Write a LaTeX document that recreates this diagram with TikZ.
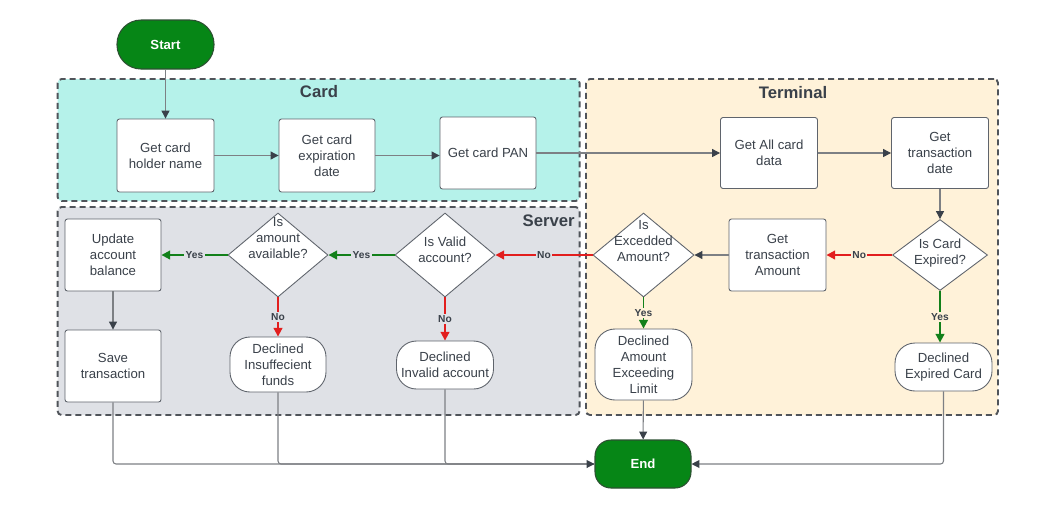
\documentclass[tikz,border=0pt]{standalone}
\usepackage{fontspec}
\setmainfont{Liberation Sans}
\usetikzlibrary{shapes.geometric,arrows.meta}
\newdimen\px \px=0.02cm
\definecolor{txt}{RGB}{58,65,74}
\definecolor{boxline}{RGB}{95,100,108}
\definecolor{laneline}{RGB}{80,84,90}
\definecolor{cardfill}{RGB}{181,242,234}
\definecolor{termfill}{RGB}{255,242,217}
\definecolor{servfill}{RGB}{223,225,230}
\definecolor{startg}{RGB}{6,134,22}
\definecolor{termedge}{RGB}{45,80,50}
\definecolor{conngray}{RGB}{125,128,132}
\definecolor{arrowc}{RGB}{58,65,74}
\definecolor{redc}{RGB}{226,30,30}
\definecolor{greenc}{RGB}{18,128,26}
\begin{document}
\begin{tikzpicture}[x=0.02cm,y=-0.02cm,
  base/.style={font=\fontsize{7.5}{9.1}\selectfont, text=txt, align=center, inner sep=0pt},
  box/.style={base, draw=boxline, fill=white, rounded corners=2.5\px, line width=0.5pt},
  decl/.style={box, rounded corners=20\px},
  dia/.style={diamond, draw=boxline, fill=white, inner sep=0pt, line width=0.5pt},
  terminal/.style={draw=termedge, fill=startg, line width=0.6pt, text=white, inner sep=0pt,
    font=\bfseries\fontsize{7.5}{9}\selectfont},
  lane/.style={draw=laneline, dash pattern=on 6\px off 4\px, line width=1.1pt, rounded corners=4\px, inner sep=0pt},
  title/.style={text=txt, font=\bfseries\fontsize{9.5}{11}\selectfont, inner sep=0pt},
  conn/.style={draw=conngray, line width=0.6pt, -{Triangle[length=4.5pt,width=4.5pt,color=arrowc]}},
  plain/.style={draw=conngray, line width=0.6pt, rounded corners=3\px},
  nocon/.style={draw=redc, line width=1.1pt, -{Triangle[length=5pt,width=5pt]}},
  yescon/.style={draw=greenc, line width=1.1pt, -{Triangle[length=5pt,width=5pt]}},
  lbl/.style={font=\bfseries\fontsize{5.8}{6}\selectfont, text=txt, inner sep=0.8pt, fill=#1}
]
\useasboundingbox (0,0) rectangle (1050,505);
% lanes
\node[lane, fill=cardfill, minimum width=522\px, minimum height=122\px] (cardlane) at (318.6,140) {};
\node[lane, fill=servfill, minimum width=522\px, minimum height=208\px] (servlane) at (318.6,311) {};
\node[lane, fill=termfill, minimum width=412\px, minimum height=336\px] (termlane) at (792,247) {};
\node[title] (cardt) at (319,92) {Card};
\node[title] (termt) at (793,93) {Terminal};
\node[title, anchor=east] (servt) at (575,221) {Server};

% nodes
\node[terminal, rounded corners=24\px, minimum width=97\px, minimum height=49\px] (start) at (165.5,44.5) {Start};
\node[box, minimum width=97\px, minimum height=73\px] (holder) at (165.5,155.5) {Get card\\holder name};
\node[box, minimum width=96\px, minimum height=73\px] (exp) at (327,155.5) {Get card\\expiration\\date};
\node[box, minimum width=96\px, minimum height=72\px] (pan) at (488,153) {Get card PAN};
\node[box, minimum width=97\px, minimum height=71\px] (getall) at (769,153) {Get All card\\data};
\node[box, minimum width=97\px, minimum height=71\px] (gettd) at (940,153) {Get\\transaction\\date};
\node[dia, minimum width=95\px, minimum height=71\px,
  label={[base, yshift=2\px]center:{Is Card\\Expired?}}] (expired) at (940,255) {};
\node[box, minimum width=97\px, minimum height=72\px] (getamt) at (777.5,255) {Get\\transaction\\Amount};
\node[dia, minimum width=101\px, minimum height=84\px,
  label={[base, yshift=14\px]center:{Is\\Excedded\\Amount?}}] (exceed) at (643.5,255) {};
\node[dia, minimum width=100\px, minimum height=84\px,
  label={[base, yshift=5.5\px]center:{Is Valid\\account?}}] (valid) at (445,255) {};
\node[dia, minimum width=100\px, minimum height=84\px,
  label={[base, yshift=17\px]center:{Is\\amount\\available?}}] (avail) at (278,255) {};
\node[box, minimum width=96\px, minimum height=72\px] (update) at (113,255) {Update\\account\\balance};
\node[box, minimum width=96\px, minimum height=72\px] (save) at (113,366) {Save\\transaction};
\node[decl, minimum width=96\px, minimum height=55\px] (insuff) at (278,364.5) {Declined\\Insuffecient\\funds};
\node[decl, minimum width=97\px, minimum height=48\px] (invalid) at (445,365) {Declined\\Invalid account};
\node[decl, minimum width=97\px, minimum height=71\px] (exceeding) at (643.5,364.5) {Declined\\Amount\\Exceeding\\Limit};
\node[decl, minimum width=97\px, minimum height=48\px] (expcard) at (943.5,367) {Declined\\Expired Card};
\node[terminal, rounded corners=16\px, minimum width=96\px, minimum height=48\px] (end) at (643,464) {End};

% connectors
\draw[conn] (start) -- (holder);
\draw[conn] (holder) -- (exp);
\draw[conn] (exp.east) -- (exp.east -| pan.west);
\draw[conn] (pan) -- (getall);
\draw[conn] (getall) -- (gettd);
\draw[conn] (gettd) -- (expired);
\draw[nocon] (expired) -- node[lbl=termfill, midway] {No} (getamt);
\draw[yescon] (expired.south) -- node[lbl=termfill, midway] {Yes} (expired.south |- expcard.north);
\draw[conn] (getamt) -- (exceed);
\draw[yescon] (exceed) -- node[lbl=termfill, midway] {Yes} (exceeding);
\draw[nocon] (exceed) -- node[lbl=servfill, midway] {No} (valid);
\draw[yescon] (valid) -- node[lbl=servfill, midway] {Yes} (avail);
\draw[nocon] (valid) -- node[lbl=servfill, midway] {No} (invalid);
\draw[yescon] (avail) -- node[lbl=servfill, midway] {Yes} (update);
\draw[nocon] (avail) -- node[lbl=servfill, midway] {No} (insuff);
\draw[conn] (update) -- (save);
\draw[plain] (insuff.south) |- (end.west);
\draw[plain] (invalid.south) |- (end.west);
\draw[plain, conn] (save.south) |- (end.west);
\draw[conn] (exceeding) -- (end);
\draw[plain, conn] (expcard.south) |- (end.east);
\end{tikzpicture}
\end{document}
